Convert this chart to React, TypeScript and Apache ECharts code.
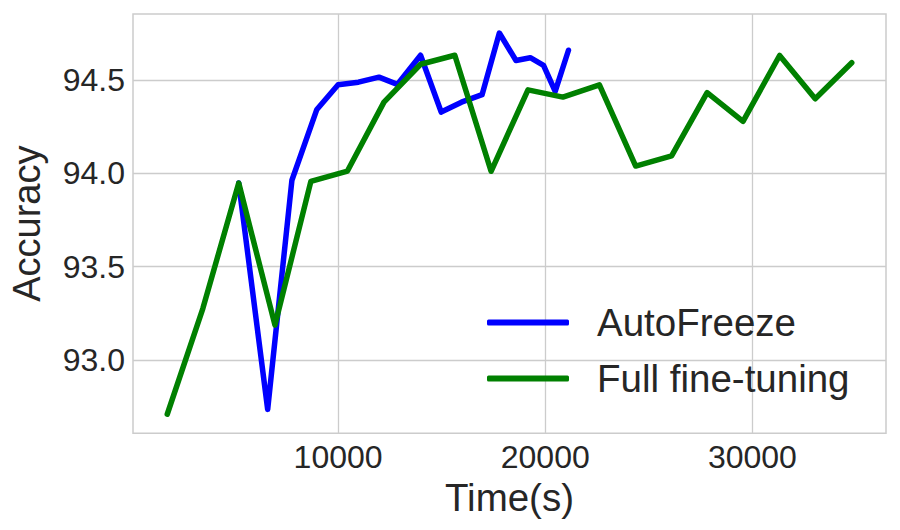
import React, { useEffect, useRef } from "react";
import * as echarts from "echarts";

const seriesNames = ["AutoFreeze", "Full fine-tuning"];

const autoFreezeTime = [5204, 6601, 7771, 8975, 10000, 10982, 11974, 12860, 13982, 14978, 15956, 16951, 17785, 18589, 19278, 19918, 20481, 21122];
const autoFreezeAcc = [93.948, 92.736, 93.963, 94.342, 94.474, 94.488, 94.515, 94.476, 94.632, 94.328, 94.381, 94.421, 94.751, 94.604, 94.619, 94.578, 94.439, 94.659];

const fullTime = [1753, 3471, 5204, 6953, 8686, 10452, 12215, 13982, 15635, 17386, 19167, 20852, 22616, 24367, 26100, 27815, 29548, 31314, 33033, 34796];
const fullAcc = [92.71, 93.276, 93.948, 93.187, 93.957, 94.012, 94.381, 94.584, 94.632, 94.011, 94.447, 94.408, 94.474, 94.039, 94.093, 94.432, 94.278, 94.631, 94.399, 94.592];

const xTicks = [10000, 20000, 30000];
const yTicks = [93.0, 93.5, 94.0, 94.5];

const FONT = "'Liberation Sans', Arial, sans-serif";
const TEXT = "#262626";
const GRID = "#cccccc";

export default function App() {
  const ref = useRef<HTMLDivElement>(null);
  useEffect(() => {
    if (!ref.current) return;
    const chart = echarts.init(ref.current, undefined, { renderer: "svg" });
    const zip = (xs: number[], ys: number[]) => xs.map((x, i) => [x, ys[i]]);
    chart.setOption({
      animation: false,
      backgroundColor: "#ffffff",
      textStyle: { fontFamily: FONT, color: TEXT },
      grid: {
        left: 131.7,
        right: 14,
        top: 14,
        bottom: 96.7,
        show: true,
        borderColor: GRID,
        borderWidth: 1.5,
      },
      legend: {
        orient: "vertical",
        left: 487,
        top: 303,
        padding: 0,
        itemWidth: 82,
        itemHeight: 6,
        itemGap: 17,
        icon: "roundRect",
        data: seriesNames,
        textStyle: {
          fontSize: 38.5,
          color: TEXT,
          fontFamily: FONT,
          padding: [0, 0, 0, 23],
        },
      },
      xAxis: {
        type: "value",
        min: 100,
        max: 36450,
        name: "Time(s)",
        nameLocation: "middle",
        nameGap: 44,
        nameTextStyle: { fontSize: 38.5, color: TEXT, fontFamily: FONT },
        axisLine: { show: false },
        axisTick: { show: false, customValues: xTicks },
        axisLabel: {
          customValues: xTicks,
          fontSize: 32,
          color: TEXT,
          fontFamily: FONT,
          margin: 8,
          formatter: (v: number) => String(v),
        },
        splitLine: { show: true, lineStyle: { color: GRID, width: 1.3 } },
      },
      yAxis: {
        type: "value",
        min: 92.608,
        max: 94.853,
        name: "Accuracy",
        nameLocation: "middle",
        nameRotate: 90,
        nameGap: 87,
        nameTextStyle: { fontSize: 38, color: TEXT, fontFamily: FONT },
        axisLine: { show: false },
        axisTick: { show: false, customValues: yTicks },
        axisLabel: {
          customValues: yTicks,
          fontSize: 32,
          color: TEXT,
          fontFamily: FONT,
          margin: 8,
          formatter: (v: number) => v.toFixed(1),
        },
        splitLine: { show: true, lineStyle: { color: GRID, width: 1.3 } },
      },
      series: [
        {
          name: seriesNames[0],
          type: "line",
          data: zip(autoFreezeTime, autoFreezeAcc),
          showSymbol: false,
          symbol: "none",
          color: "#0000ff",
          lineStyle: { width: 5.5, color: "#0000ff", cap: "round", join: "round" },
        },
        {
          name: seriesNames[1],
          type: "line",
          data: zip(fullTime, fullAcc),
          showSymbol: false,
          symbol: "none",
          color: "#008000",
          lineStyle: { width: 5.5, color: "#008000", cap: "round", join: "round" },
        },
      ],
    });
    return () => chart.dispose();
  }, []);
  return <div ref={ref} style={{ width: 900, height: 530, position: "absolute", left: 0, top: 0 }} />;
}
